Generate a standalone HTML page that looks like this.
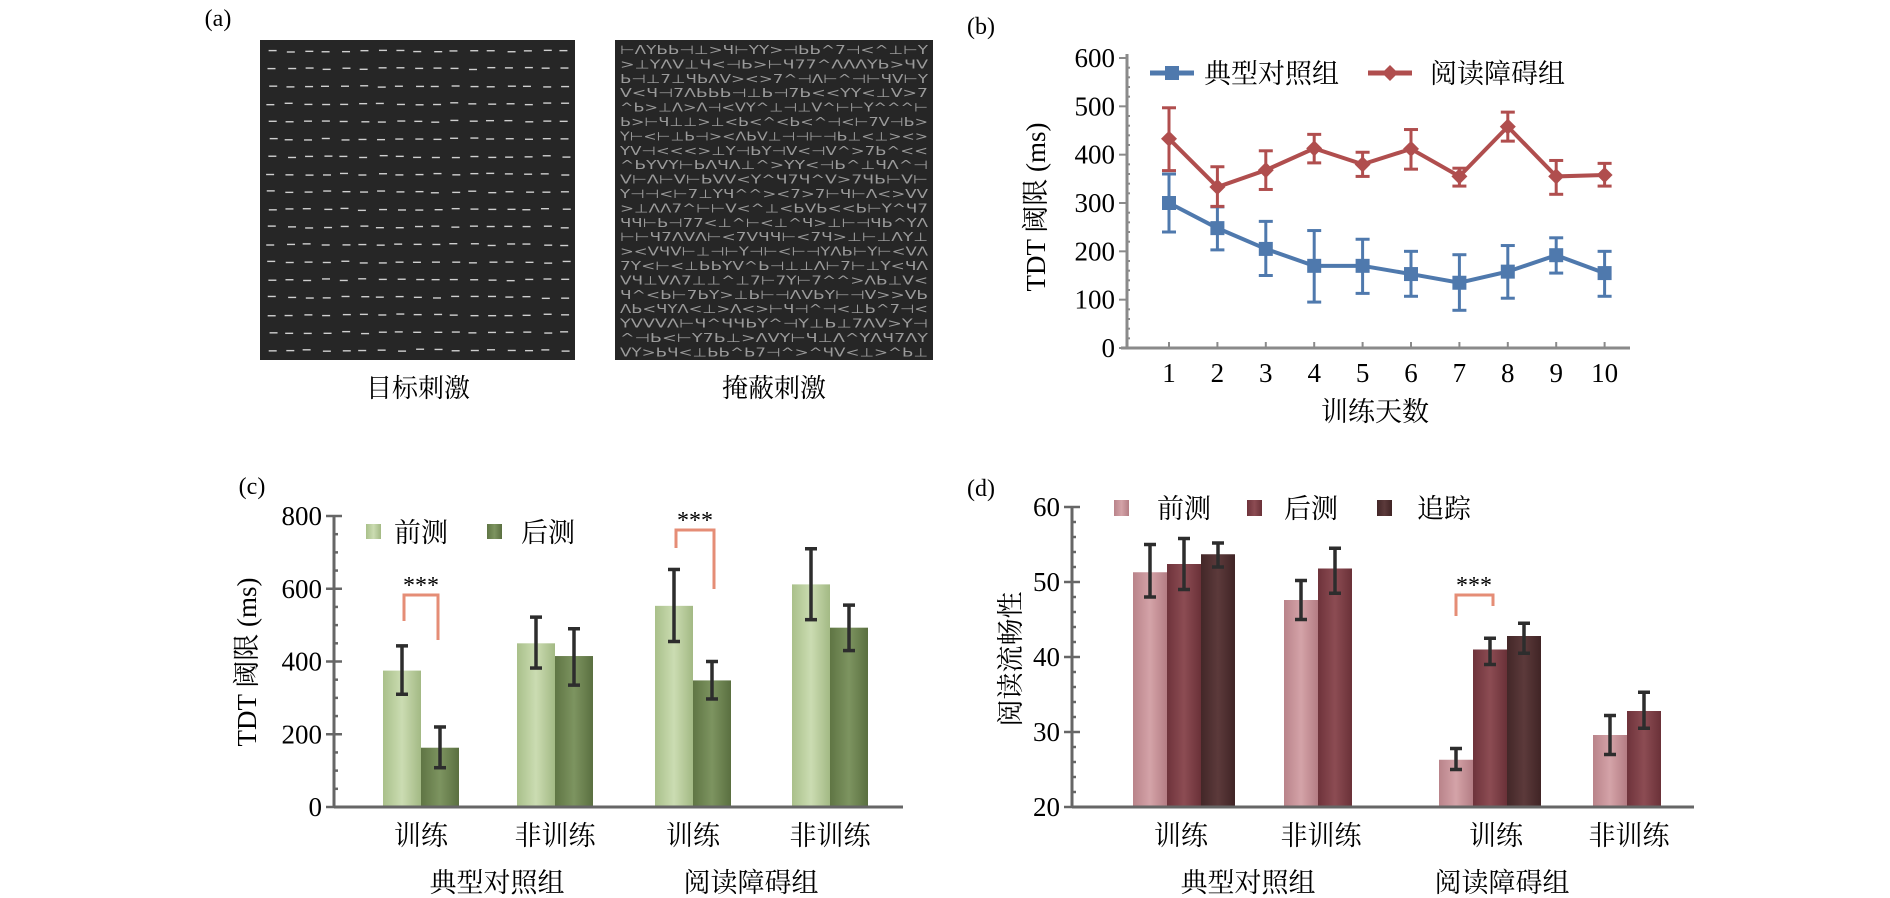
<!DOCTYPE html>
<html><head><meta charset="utf-8"><style>
html,body{margin:0;padding:0;background:#fff;}
svg{display:block;font-family:"Liberation Serif","Noto Serif CJK SC",serif;}
</style></head><body>
<svg id="fig" width="1890" height="898" viewBox="0 0 1890 898" xmlns="http://www.w3.org/2000/svg">
<defs>
<linearGradient id="gc1" x1="0" x2="1"><stop offset="0" stop-color="#a9c08a"/><stop offset="0.5" stop-color="#cbdcb2"/><stop offset="1" stop-color="#a3b984"/></linearGradient>
<linearGradient id="gc2" x1="0" x2="1"><stop offset="0" stop-color="#5f7544"/><stop offset="0.5" stop-color="#7d9460"/><stop offset="1" stop-color="#5a6f40"/></linearGradient>
<linearGradient id="gd1" x1="0" x2="1"><stop offset="0" stop-color="#b9838a"/><stop offset="0.5" stop-color="#d4a3a8"/><stop offset="1" stop-color="#b47d84"/></linearGradient>
<linearGradient id="gd2" x1="0" x2="1"><stop offset="0" stop-color="#6e333b"/><stop offset="0.5" stop-color="#8c4c53"/><stop offset="1" stop-color="#6a3138"/></linearGradient>
<linearGradient id="gd3" x1="0" x2="1"><stop offset="0" stop-color="#432728"/><stop offset="0.5" stop-color="#5c3a3b"/><stop offset="1" stop-color="#402425"/></linearGradient>
</defs>
<g id="pa">
<text x="218" y="26" font-size="24" text-anchor="middle">(a)</text>
<rect x="260" y="40" width="315" height="320" fill="#262626"/>
<rect x="615" y="40" width="318" height="320" fill="#262626"/>
<g id="texL"></g><g id="texR"></g>
<text x="418" y="397" font-size="26" text-anchor="middle">目标刺激</text>
<text x="774" y="397" font-size="26" text-anchor="middle">掩蔽刺激</text>
</g>
<g id="pb"></g>
<g id="pc"></g>
<g id="pd"></g>
</svg>
<script>
// ===== Panel (b) data =====
const bDays = [1,2,3,4,5,6,7,8,9,10];
const bYTicks = [0,100,200,300,400,500,600];
const bCtrlMean = [300,248,205,170,170,153,135,158,192,155];
const bCtrlLo = [240,203,150,95,113,107,78,103,155,107];
const bCtrlHi = [360,292,262,243,225,200,193,212,228,200];
const bDysMean = [433,333,368,413,380,412,355,458,355,358];
const bDysLo = [367,293,328,383,355,370,335,428,318,335];
const bDysHi = [497,375,408,442,405,452,372,488,388,382];
// ===== Panel (c) data =====
const cCats = ["训练","非训练","训练","非训练"];
const cGroups = ["典型对照组","阅读障碍组"];
const cYTicks = [0,200,400,600,800];
const cPre = [375,450,553,612];
const cPreLo = [310,382,455,515];
const cPreHi = [443,522,653,710];
const cPost = [163,415,348,493];
const cPostLo = [108,335,297,430];
const cPostHi = [220,490,400,555];
// ===== Panel (d) data =====
const dCats = ["训练","非训练","训练","非训练"];
const dYTicks = [20,30,40,50,60];
const dPre = [51.3,47.6,26.3,29.6];
const dPreLo = [48,45,25,27];
const dPreHi = [55,50.2,27.8,32.2];
const dPost = [52.4,51.8,41,32.8];
const dPostLo = [49,48.5,39,30.5];
const dPostHi = [55.8,54.5,42.5,35.3];
const dFollow = [53.7,null,42.8,null];
const dFollowLo = [52,null,40.5,null];
const dFollowHi = [55.2,null,44.5,null];

const NS="http://www.w3.org/2000/svg";
function mk(parent,tag,attrs,text){const e=document.createElementNS(NS,tag);for(const k in attrs)e.setAttribute(k,attrs[k]);if(text!==undefined)e.textContent=text;parent.appendChild(e);return e;}

// ---- texture panel a ----
(function(){
  let s=12345;function r(){s=(s*1103515245+12345)%2147483648;return s/2147483648;}
  const L=document.getElementById('texL');
  for(let row=0;row<18;row++){for(let c=0;c<17;c++){
    const x=266+c*18.3+r()*4,y=50+row*17.6+r()*2;
    const e=mk(L,'line',{x1:x,y1:y,x2:x+8,y2:y,stroke:'#cfcfcf','stroke-width':1.4});
    
    
  }}
  const R=document.getElementById('texR');const g="<>V^ΛY⊥⊢⊣7ЬЧ";
  for(let row=0;row<22;row++){let str="";for(let c=0;c<24;c++)str+=g[Math.floor(r()*g.length)];
    const t=mk(R,'text',{x:620,y:54+row*14.4,'font-size':12,fill:'#a8a8a8','fill-opacity':0.9,'font-family':'"DejaVu Sans",sans-serif',textLength:308,lengthAdjust:'spacingAndGlyphs'},str);
    
    
  }
})();

// ---- panel b ----
(function(){
  const G=document.getElementById('pb');
  const x0=1127,xEnd=1630,yB=348,yT=58;
  const X=d=>1169+(d-1)*48.4;
  const Y=v=>yB-(v/600)*(yB-yT);
  let t=mk(G,'text',{x:981,y:34,'font-size':24,'text-anchor':'middle'},'(b)');
  
  let a=mk(G,'line',{x1:x0,y1:yT-4,x2:x0,y2:yB,stroke:'#8a8a8a','stroke-width':3});
  
  a=mk(G,'line',{x1:x0-6,y1:yB,x2:xEnd,y2:yB,stroke:'#8a8a8a','stroke-width':3});
  
  for(let v=0;v<=600;v+=20){mk(G,'line',{x1:x0-(v%100?0:8),y1:Y(v),x2:x0+(v%100?3:0),y2:Y(v),stroke:'#8a8a8a','stroke-width':2});}
  bYTicks.forEach(v=>{const e=mk(G,'text',{x:x0-12,y:Y(v)+9,'font-size':27,'text-anchor':'end'},String(v));
    });
  bDays.forEach(d=>{mk(G,'line',{x1:X(d),y1:yB-6,x2:X(d),y2:yB,stroke:'#8a8a8a','stroke-width':2});
    const e=mk(G,'text',{x:X(d),y:382,'font-size':27,'text-anchor':'middle'},String(d));
    });
  t=mk(G,'text',{x:1375,y:421,'font-size':27,'text-anchor':'middle'},'训练天数');
  
  t=mk(G,'text',{x:0,y:0,'font-size':27,'text-anchor':'middle',transform:'translate(1045,207) rotate(-90)'},'TDT 阈限 (ms)');
  
  function series(mean,lo,hi,col,name,marker){
    const g=mk(G,'g',{});
    bDays.forEach((d,i)=>{const x=X(d);
      mk(g,'line',{x1:x,y1:Y(lo[i]),x2:x,y2:Y(hi[i]),stroke:col,'stroke-width':3});
      mk(g,'line',{x1:x-7,y1:Y(lo[i]),x2:x+7,y2:Y(lo[i]),stroke:col,'stroke-width':3});
      mk(g,'line',{x1:x-7,y1:Y(hi[i]),x2:x+7,y2:Y(hi[i]),stroke:col,'stroke-width':3});});
    mk(g,'polyline',{points:bDays.map((d,i)=>X(d)+','+Y(mean[i])).join(' '),fill:'none',stroke:col,'stroke-width':4});
    bDays.forEach((d,i)=>{let m;
      if(marker==='sq')m=mk(g,'rect',{x:X(d)-7,y:Y(mean[i])-7,width:14,height:14,fill:col});
      else m=mk(g,'polygon',{points:`${X(d)},${Y(mean[i])-8} ${X(d)+8},${Y(mean[i])} ${X(d)},${Y(mean[i])+8} ${X(d)-8},${Y(mean[i])}`,fill:col});
      });
  }
  series(bCtrlMean,bCtrlLo,bCtrlHi,'#4f79ad','series-control','sq');
  series(bDysMean,bDysLo,bDysHi,'#b04e4e','series-dyslexia','dm');
  let lg=mk(G,'g',{});
  mk(lg,'line',{x1:1150,y1:73,x2:1194,y2:73,stroke:'#4f79ad','stroke-width':5});
  mk(lg,'rect',{x:1165,y:66,width:14,height:14,fill:'#4f79ad'});
  t=mk(lg,'text',{x:1204,y:83,'font-size':27},'典型对照组');
  mk(lg,'line',{x1:1368,y1:73,x2:1412,y2:73,stroke:'#b04e4e','stroke-width':5});
  mk(lg,'polygon',{points:'1390,65 1398,73 1390,81 1382,73',fill:'#b04e4e'});
  t=mk(lg,'text',{x:1430,y:83,'font-size':27},'阅读障碍组');
})();

// ---- panel c ----
(function(){
  const G=document.getElementById('pc');
  const x0=334,xEnd=903,yB=807,yT=516;
  const Y=v=>yB-(v/800)*(yB-yT);
  const centers=[421,555,693,830];const bw=38;
  let t=mk(G,'text',{x:252,y:494,'font-size':24,'text-anchor':'middle'},'(c)');
  
  let a=mk(G,'line',{x1:x0,y1:yT,x2:x0,y2:yB,stroke:'#666','stroke-width':3});
  
  for(let v=0;v<=800;v+=50){mk(G,'line',{x1:x0-(v%200?0:8),y1:Y(v),x2:x0+(v%200?4:8),y2:Y(v),stroke:'#666','stroke-width':2.5});}
  cYTicks.forEach(v=>{const e=mk(G,'text',{x:x0-12,y:Y(v)+9,'font-size':27,'text-anchor':'end'},String(v));
    });
  t=mk(G,'text',{x:0,y:0,'font-size':27,'text-anchor':'middle',transform:'translate(256,662) rotate(-90)'},'TDT 阈限 (ms)');
  
  function bar(x,v,lo,hi,fill,name){const b=mk(G,'rect',{x:x,y:Y(v),width:bw,height:yB-Y(v),fill:fill});
    
    const cx=x+bw/2;mk(G,'line',{x1:cx,y1:Y(lo),x2:cx,y2:Y(hi),stroke:'#2d2d2d','stroke-width':3.5});
    mk(G,'line',{x1:cx-6,y1:Y(lo),x2:cx+6,y2:Y(lo),stroke:'#2d2d2d','stroke-width':3.5});
    mk(G,'line',{x1:cx-6,y1:Y(hi),x2:cx+6,y2:Y(hi),stroke:'#2d2d2d','stroke-width':3.5});}
  centers.forEach((c,i)=>{bar(c-bw,cPre[i],cPreLo[i],cPreHi[i],'url(#gc1)','bar-pretest');bar(c,cPost[i],cPostLo[i],cPostHi[i],'url(#gc2)','bar-posttest');
    const e=mk(G,'text',{x:c,y:845,'font-size':27,'text-anchor':'middle'},cCats[i]);
    });
  a=mk(G,'line',{x1:x0,y1:yB,x2:xEnd,y2:yB,stroke:'#666','stroke-width':3});
  
  [497,751].forEach((x,i)=>{const e=mk(G,'text',{x:x,y:892,'font-size':27,'text-anchor':'middle'},cGroups[i]);
    });
  function sig(l,r,top,ld,rd){const p=mk(G,'polyline',{points:`${l},${ld} ${l},${top} ${r},${top} ${r},${rd}`,fill:'none',stroke:'#e58d76','stroke-width':3});
    
    const s=mk(G,'text',{x:(l+r)/2,y:top-2,'font-size':24,'text-anchor':'middle'},'***');
    }
  sig(404,438,595,621,640);sig(676,714,530,548,589);
  let lg=mk(G,'g',{});
  mk(lg,'rect',{x:366,y:524,width:15,height:15,fill:'url(#gc1)'});
  t=mk(lg,'text',{x:394,y:542,'font-size':27},'前测');
  mk(lg,'rect',{x:487,y:524,width:15,height:15,fill:'url(#gc2)'});
  t=mk(lg,'text',{x:521,y:542,'font-size':27},'后测');
})();

// ---- panel d ----
(function(){
  const G=document.getElementById('pd');
  const x0=1072,xEnd=1694,yB=807,yT=507;
  const Y=v=>yB-((v-20)/40)*(yB-yT);
  const starts=[1133,1284,1439,1593];const bw=34;
  let t=mk(G,'text',{x:981,y:496,'font-size':24,'text-anchor':'middle'},'(d)');
  
  let a=mk(G,'line',{x1:x0,y1:yT,x2:x0,y2:yB,stroke:'#666','stroke-width':3});
  
  for(let v=20;v<=60;v+=2){mk(G,'line',{x1:x0-(v%10?0:8),y1:Y(v),x2:x0+(v%10?4:8),y2:Y(v),stroke:'#666','stroke-width':2.5});}
  dYTicks.forEach(v=>{const e=mk(G,'text',{x:x0-12,y:Y(v)+9,'font-size':27,'text-anchor':'end'},String(v));
    });
  t=mk(G,'text',{x:0,y:0,'font-size':27,'text-anchor':'middle',transform:'translate(1020,659) rotate(-90)'},'阅读流畅性');
  
  function bar(x,v,lo,hi,fill,name){const b=mk(G,'rect',{x:x,y:Y(v),width:bw,height:yB-Y(v),fill:fill});
    
    const cx=x+bw/2;mk(G,'line',{x1:cx,y1:Y(lo),x2:cx,y2:Y(hi),stroke:'#2d2d2d','stroke-width':3.5});
    mk(G,'line',{x1:cx-6,y1:Y(lo),x2:cx+6,y2:Y(lo),stroke:'#2d2d2d','stroke-width':3.5});
    mk(G,'line',{x1:cx-6,y1:Y(hi),x2:cx+6,y2:Y(hi),stroke:'#2d2d2d','stroke-width':3.5});}
  starts.forEach((s,i)=>{bar(s,dPre[i],dPreLo[i],dPreHi[i],'url(#gd1)','bar-pretest');
    bar(s+bw,dPost[i],dPostLo[i],dPostHi[i],'url(#gd2)','bar-posttest');
    if(dFollow[i]!==null)bar(s+2*bw,dFollow[i],dFollowLo[i],dFollowHi[i],'url(#gd3)','bar-followup');});
  [1181,1321,1496,1629].forEach((x,i)=>{const e=mk(G,'text',{x:x,y:845,'font-size':27,'text-anchor':'middle'},dCats[i]);
    });
  a=mk(G,'line',{x1:x0,y1:yB,x2:xEnd,y2:yB,stroke:'#666','stroke-width':3});
  
  [[1248,'典型对照组'],[1502,'阅读障碍组']].forEach(g=>{const e=mk(G,'text',{x:g[0],y:892,'font-size':27,'text-anchor':'middle'},g[1]);
    });
  const p=mk(G,'polyline',{points:'1456,616 1456,595 1493,595 1493,606',fill:'none',stroke:'#e58d76','stroke-width':3});
  
  t=mk(G,'text',{x:1474,y:593,'font-size':24,'text-anchor':'middle'},'***');
  
  let lg=mk(G,'g',{});
  [[1114,1157,'url(#gd1)','前测','legend-entry-pretest'],[1247,1284,'url(#gd2)','后测','legend-entry-posttest'],[1377,1417,'url(#gd3)','追踪','legend-entry-followup']].forEach(l=>{
    mk(lg,'rect',{x:l[0],y:500,width:15,height:16,fill:l[2]});
    const e=mk(lg,'text',{x:l[1],y:518,'font-size':27},l[3]);
    });
})();
</script>
</body></html>
